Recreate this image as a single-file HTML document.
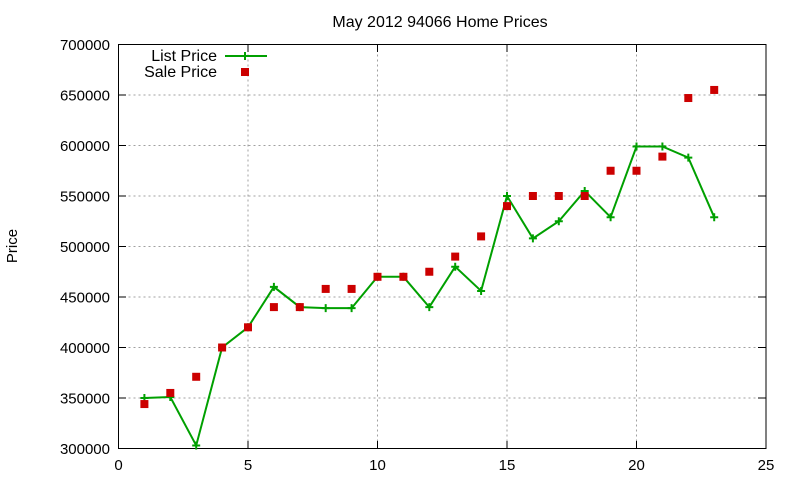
<!DOCTYPE html>
<html><head><meta charset="utf-8"><style>
body{margin:0;background:#fff}
svg{display:block;font-family:"Liberation Sans",sans-serif;font-size:15px}
</style></head><body>
<svg id="s" width="800" height="480" xmlns="http://www.w3.org/2000/svg">
<rect width="800" height="480" fill="#fff"/>
<g id="grid" stroke="#a0a0a0" stroke-width="1" stroke-dasharray="2,3"></g>
<rect x="118.5" y="44.5" width="647.5" height="404" fill="none" stroke="#000" stroke-width="1"/>
<g id="ticks" stroke="#000" stroke-width="1"></g>
<g text-anchor="end" fill="#000">
<text x="110" y="454">300000</text>
<text x="110" y="403.5">350000</text>
<text x="110" y="353">400000</text>
<text x="110" y="302.5">450000</text>
<text x="110" y="252">500000</text>
<text x="110" y="201.5">550000</text>
<text x="110" y="151">600000</text>
<text x="110" y="100.5">650000</text>
<text x="110" y="50">700000</text>
</g>
<g text-anchor="middle" fill="#000">
<text x="118.5" y="470">0</text>
<text x="248" y="470">5</text>
<text x="377.5" y="470">10</text>
<text x="507" y="470">15</text>
<text x="636.5" y="470">20</text>
<text x="766" y="470">25</text>
<text x="440" y="27" font-size="16">May 2012 94066 Home Prices</text>
<text transform="translate(17,246) rotate(-90)" font-size="15">Price</text>
</g>
<g text-anchor="end" fill="#000" font-size="16">
<text x="217" y="61">List Price</text>
<text x="217" y="77">Sale Price</text>
</g>
<line x1="225" y1="56" x2="267" y2="56" stroke="#00a000" stroke-width="2"/>
<path d="M241 56h8M245 52v8" stroke="#00a000" stroke-width="2"/>
<rect x="241" y="68" width="8" height="8" fill="#cc0000"/>
<g id="data"></g>
</svg>
<script>
var X=function(v){return 118.5+v*25.9},Y=function(v){return 448.5-(v-300000)*0.00101};
var g=document.getElementById('grid'),t=document.getElementById('ticks'),d=document.getElementById('data'),h='',k='';
for(var i=1;i<5;i++){var x=X(i*5);h+='<line x1="'+x+'" y1="44.5" x2="'+x+'" y2="448.5"/>';}
for(var i=1;i<8;i++){var y=Y(300000+i*50000);h+='<line x1="118.5" y1="'+y+'" x2="766" y2="'+y+'"/>';}
for(var i=0;i<=5;i++){var x=X(i*5);k+='<line x1="'+x+'" y1="448.5" x2="'+x+'" y2="441"/><line x1="'+x+'" y1="44.5" x2="'+x+'" y2="52"/>';}
for(var i=0;i<=8;i++){var y=Y(300000+i*50000);k+='<line x1="118.5" y1="'+y+'" x2="126" y2="'+y+'"/><line x1="766" y1="'+y+'" x2="758" y2="'+y+'"/>';}
g.innerHTML=h;t.innerHTML=k;
var L=[350000,351000,303000,400000,420000,460000,440000,439000,439000,470000,470000,440000,480000,456000,550000,508000,525000,555000,529000,599000,599000,588000,529000];
var S=[344000,355000,371000,400000,420000,440000,440000,458000,458000,470000,470000,475000,490000,510000,540000,550000,550000,550000,575000,575000,589000,647000,655000];
var p='',m='',q='';
L.forEach(function(v,i){var x=X(i+1),y=Y(v);p+=(i?'L':'M')+x+' '+y;m+='M'+(x-4)+' '+y+'h8M'+x+' '+(y-4)+'v8';});
S.forEach(function(v,i){q+='<rect x="'+(X(i+1)-4)+'" y="'+(Y(v)-4)+'" width="8" height="8" fill="#cc0000"/>';});
d.innerHTML='<path d="'+p+'" fill="none" stroke="#00a000" stroke-width="2"/><path d="'+m+'" stroke="#00a000" stroke-width="2"/>'+q;
</script>
</body></html>
